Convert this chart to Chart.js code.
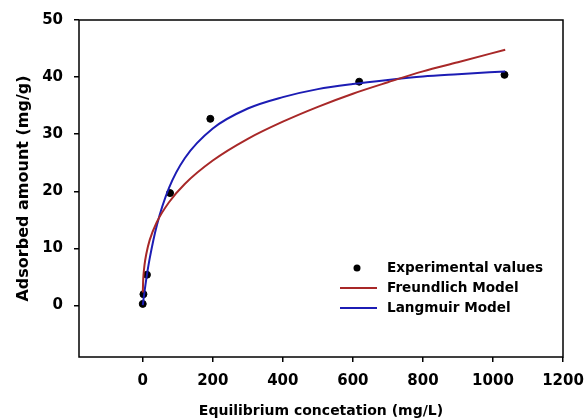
<!DOCTYPE html>
<html>
<head>
<meta charset="utf-8">
<script src="https://cdn.jsdelivr.net/npm/chart.js@4"></script>
<style>
  html, body { margin: 0; padding: 0; background: #fff; }
  #wrap { width: 586px; height: 420px; }
</style>
</head>
<body>
<div id="wrap"><canvas id="chart" width="586" height="420"></canvas></div>
<script>
// experimental points
var expC = [0, 2, 12, 78, 193, 618, 1033];
var expQ = [0.3, 2.0, 5.4, 19.7, 32.7, 39.2, 40.4];

// model curves
var modelC = [0.2, 1, 2, 5, 10, 20, 40, 75, 120, 200, 300, 400, 500, 600, 700, 800, 900, 1035];
var freundlichQ = [2.3, 4.1, 5.2, 7.1, 9.0, 11.5, 14.6, 18.1, 21.3, 25.4, 29.2, 32.2, 34.8, 37.1, 39.1, 41.0, 42.6, 44.8];
var langmuirQ = [0.1, 0.5, 1.0, 2.4, 4.6, 8.3, 14.0, 20.6, 25.8, 31.0, 34.5, 36.5, 37.9, 38.8, 39.5, 40.1, 40.5, 41.0];

var xTicks = [0, 200, 400, 600, 800, 1000, 1200];
var yTicks = [0, 10, 20, 30, 40, 50];

var seriesNames = ["Experimental values", "Freundlich Model", "Langmuir Model"];
var redColor = "#a82828";
var blueColor = "#1c1cb4";

function pts(xs, ys) {
    return xs.map(function (x, i) { return { x: x, y: ys[i] } })
}

var boxPlugin = {
    id: "box",
    afterDraw: function (chart) {
        var ctx = chart.ctx, a = chart.chartArea
        ctx.save()
        ctx.strokeStyle = "#000"
        ctx.lineWidth = 1.5
        ctx.strokeRect(a.left, a.top, a.right - a.left, a.bottom - a.top)

        // legend inside the plot
        var lx = a.left + 261, ly = a.top + 248, gap = 20
        ctx.font = "bold 13.6px 'DejaVu Sans'"
        ctx.textBaseline = "middle"
        ctx.fillStyle = "#000"
        ctx.beginPath()
        ctx.arc(lx + 17, ly, 3.5, 0, Math.PI * 2)
        ctx.fill()
        ctx.lineWidth = 2
        ctx.strokeStyle = redColor
        ctx.beginPath(); ctx.moveTo(lx, ly + gap); ctx.lineTo(lx + 37, ly + gap); ctx.stroke()
        ctx.strokeStyle = blueColor
        ctx.beginPath(); ctx.moveTo(lx, ly + 2 * gap); ctx.lineTo(lx + 37, ly + 2 * gap); ctx.stroke()
        for (var i = 0; i < seriesNames.length; i++) {
            ctx.fillText(seriesNames[i], lx + 47, ly + i * gap)
        }
        ctx.restore()
    }
}

new Chart("chart", {
    type: "scatter",
    data: {
        datasets: [{
            label: seriesNames[1],
            type: "line",
            data: pts(modelC, freundlichQ),
            borderColor: redColor,
            borderWidth: 2,
            pointRadius: 0,
            cubicInterpolationMode: "monotone",
            fill: false
        }, {
            label: seriesNames[2],
            type: "line",
            data: pts(modelC, langmuirQ),
            borderColor: blueColor,
            borderWidth: 2,
            pointRadius: 0,
            cubicInterpolationMode: "monotone",
            fill: false
        }, {
            label: seriesNames[0],
            data: pts(expC, expQ),
            backgroundColor: "#000",
            borderColor: "#000",
            pointRadius: 3.5
        }]
    },
    options: {
        responsive: false,
        animation: false,
        layout: { padding: { top: 20, right: 23, left: 0, bottom: 0 }, autoPadding: false },
        plugins: { legend: { display: false }, tooltip: { enabled: false } },
        scales: {
            x: {
                type: "linear",
                min: -182,
                max: 1200,
                afterBuildTicks: function (s) { s.ticks = xTicks.map(function (v) { return { value: v } }) },
                afterFit: function (s) { s.height = 63; s.paddingLeft = 0; s.paddingRight = 0 },
                grid: { drawOnChartArea: false, tickLength: 5, color: "#000", lineWidth: 1.5 },
                border: { display: false },
                ticks: {
                    color: "#000", padding: 10, maxRotation: 0,
                    callback: function (v) { return String(v) },
                    font: { family: "DejaVu Sans", weight: "bold", size: 15 }
                },
                title: {
                    display: true,
                    text: "Equilibrium concetation (mg/L)",
                    color: "#000",
                    padding: { top: 0, bottom: 0 },
                    font: { family: "DejaVu Sans", weight: "bold", size: 14 }
                }
            },
            y: {
                type: "linear",
                min: -9,
                max: 50,
                afterBuildTicks: function (s) { s.ticks = yTicks.map(function (v) { return { value: v } }) },
                afterFit: function (s) { s.width = 79 },
                grid: { drawOnChartArea: false, tickLength: 5, color: "#000", lineWidth: 1.5 },
                border: { display: false },
                ticks: { color: "#000", padding: 11, font: { family: "DejaVu Sans", weight: "bold", size: 15 } },
                title: {
                    display: true,
                    text: "Adsorbed amount (mg/g)",
                    color: "#000",
                    padding: { top: 14, bottom: 0 },
                    font: { family: "DejaVu Sans", weight: "bold", size: 16 }
                }
            }
        }
    },
    plugins: [boxPlugin]
});
</script>
</body>
</html>
